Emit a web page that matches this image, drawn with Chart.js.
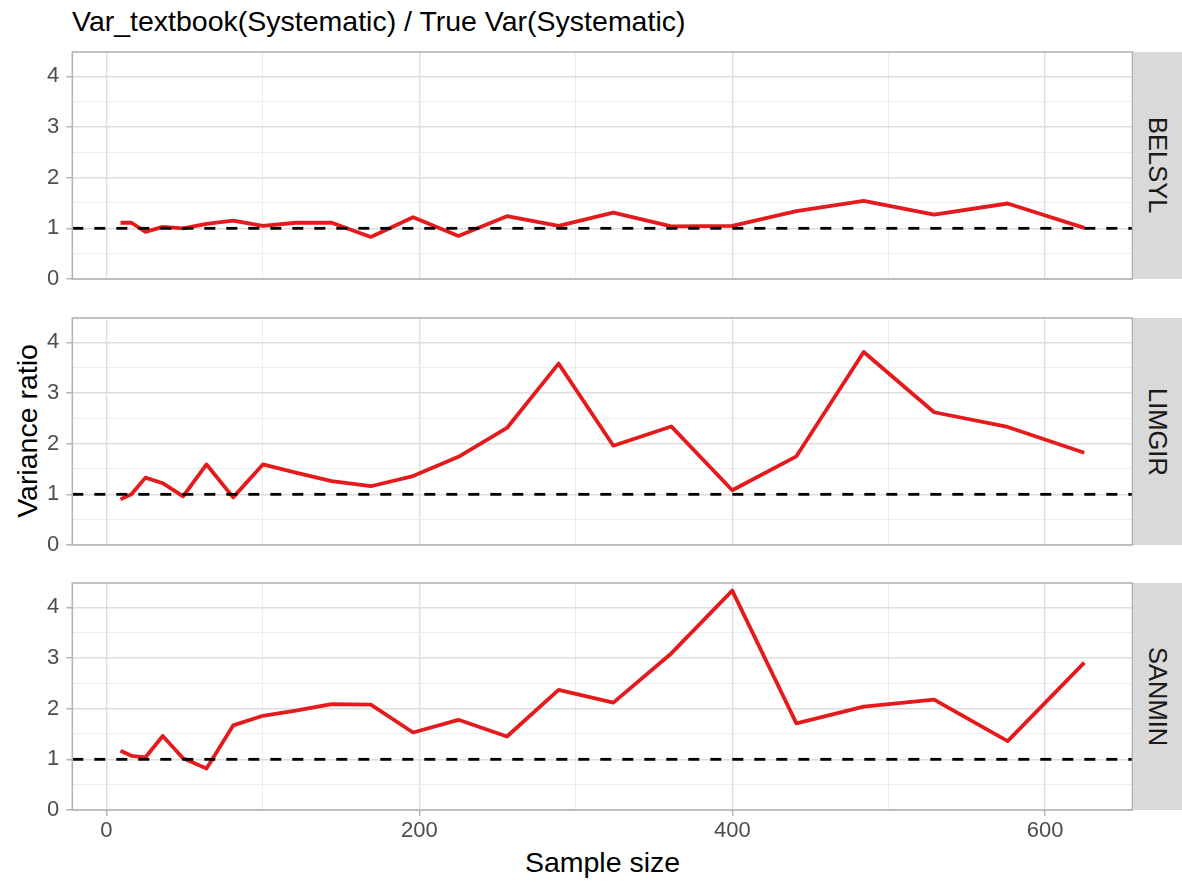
<!DOCTYPE html>
<html>
<head>
<meta charset="utf-8">
<script src="https://cdn.jsdelivr.net/npm/chart.js@4/dist/chart.umd.min.js"></script>
<style>
  html, body { margin: 0; padding: 0; background: #fff; }
  #page { position: relative; width: 1182px; height: 887px; overflow: hidden; font-family: "Liberation Sans", Arial, sans-serif; }
  canvas { position: absolute; left: 0; }
  .title { position: absolute; left: 72px; top: 4px; font-size: 28.5px; line-height: 34px; color: #000; white-space: nowrap; }
  .xtitle { position: absolute; left: 72px; width: 1061px; top: 845px; font-size: 28.5px; line-height: 34px; text-align: center; color: #000; }
  .ytitle { position: absolute; left: 27px; top: 431px; font-size: 28.5px; line-height: 34px; color: #000; white-space: nowrap; transform: translate(-50%, -50%) rotate(-90deg); }
  .strip { position: absolute; left: 1133px; width: 49px; background: #D9D9D9; display: flex; align-items: center; justify-content: center; }
  .strip span { writing-mode: vertical-rl; font-size: 25.5px; color: #1A1A1A; }
</style>
</head>
<body>
<div id="page">
  <div class="title">Var_textbook(Systematic) / True Var(Systematic)</div>
  <div class="ytitle">Variance ratio</div>
  <div class="xtitle">Sample size</div>
</div>
<script>
// Sample sizes (x) and the variance ratio per design
const sampleSize = [9, 16, 25, 36, 49, 64, 81, 100, 121, 144, 169, 196, 225, 256, 289, 324, 361, 400, 441, 484, 529, 576, 625];
const belsyl = [1.11, 1.11, 0.93, 1.03, 1.00, 1.09, 1.15, 1.05, 1.11, 1.11, 0.83, 1.22, 0.85, 1.24, 1.05, 1.31, 1.04, 1.05, 1.34, 1.54, 1.27, 1.49, 1.01];
const limgir = [0.90, 1.00, 1.33, 1.22, 0.96, 1.59, 0.94, 1.59, 1.43, 1.26, 1.16, 1.36, 1.74, 2.31, 3.58, 1.96, 2.34, 1.08, 1.75, 3.81, 2.62, 2.33, 1.82];
const sanmin = [1.17, 1.07, 1.04, 1.46, 1.02, 0.82, 1.67, 1.86, 1.96, 2.09, 2.08, 1.53, 1.78, 1.45, 2.37, 2.12, 3.09, 4.33, 1.71, 2.04, 2.18, 1.36, 2.91];
const panelNames = ["BELSYL", "LIMGIR", "SANMIN"];
const panelSeries = [belsyl, limgir, sanmin];

// Reference level and axis settings
const refLevel = 1;
const xRange = [-21.8, 655.8];
const yRange = [0, 4.48];
const xTicks = [0, 100, 200, 300, 400, 500, 600];
const xLabelTicks = [0, 200, 400, 600];
const yTicks = [0, 0.5, 1, 1.5, 2, 2.5, 3, 3.5, 4];
const yLabelTicks = [0, 1, 2, 3, 4];

const lineColor = "#E41A1C";
const panelTops = [52, 318, 583];
const panelHeight = 227;
const padTop = 10;

const page = document.getElementById("page");

// Panel frame drawn over the plot
const framePlugin = {
  id: "frame",
  afterDraw(chart) {
    const { ctx, chartArea: a } = chart;
    ctx.save();
    ctx.strokeStyle = "#B3B3B3";
    ctx.lineWidth = 1.6;
    ctx.strokeRect(a.left, a.top, a.right - a.left, a.bottom - a.top);
    ctx.restore();
  }
};

function gridOpts(majorSet, drawTicks) {
  return {
    color: c => majorSet.includes(c.tick.value) ? "#DEDEDE" : "#EBEBEB",
    lineWidth: c => majorSet.includes(c.tick.value) ? 1.4 : 0.9,
    tickColor: c => majorSet.includes(c.tick.value) ? "#B3B3B3" : "rgba(0,0,0,0)",
    drawTicks: drawTicks,
    tickLength: 6,
    tickWidth: 1.5
  };
}

function noOverflow(s) {
  s.paddingTop = 0;
  s.paddingBottom = 0;
  s.paddingLeft = 0;
  s.paddingRight = 0;
}

panelSeries.forEach((series, i) => {
  const isBottom = i === panelSeries.length - 1;
  const bottomExtra = isBottom ? 44 : 10;
  const canvas = document.createElement("canvas");
  canvas.width = 1134;
  canvas.height = padTop + panelHeight + bottomExtra;
  canvas.style.top = (panelTops[i] - padTop) + "px";
  page.appendChild(canvas);

  const strip = document.createElement("div");
  strip.className = "strip";
  strip.style.top = panelTops[i] + "px";
  strip.style.height = panelHeight + "px";
  strip.innerHTML = "<span>" + panelNames[i] + "</span>";
  page.appendChild(strip);

  new Chart(canvas, {
    type: "line",
    data: {
      datasets: [
        {
          data: xRange.map(x => ({ x: x, y: refLevel })),
          borderColor: "#000",
          borderWidth: 2.8,
          borderDash: [11, 11],
          borderCapStyle: "butt",
          pointRadius: 0,
          order: 0
        },
        {
          data: sampleSize.map((n, k) => ({ x: n, y: series[k] })),
          borderColor: lineColor,
          borderWidth: 3.8,
          borderJoinStyle: "round",
          pointRadius: 0,
          tension: 0,
          order: 1
        }
      ]
    },
    options: {
      responsive: false,
      animation: false,
      events: [],
      layout: { padding: { top: padTop, left: 0, right: 1.5, bottom: isBottom ? 0 : bottomExtra } },
      plugins: { legend: { display: false }, tooltip: { enabled: false } },
      scales: {
        x: {
          type: "linear",
          min: xRange[0],
          max: xRange[1],
          afterBuildTicks: s => { s.ticks = xTicks.map(v => ({ value: v })); },
          afterFit: s => { s.height = isBottom ? bottomExtra : 0; noOverflow(s); },
          grid: gridOpts(xLabelTicks, isBottom),
          border: { display: false },
          ticks: {
            display: isBottom,
            autoSkip: false,
            maxRotation: 0,
            padding: 2,
            color: "#4D4D4D",
            font: { family: "Liberation Sans", size: 22 },
            callback: v => xLabelTicks.includes(v) ? String(v) : ""
          }
        },
        y: {
          type: "linear",
          min: yRange[0],
          max: yRange[1],
          afterBuildTicks: s => { s.ticks = yTicks.map(v => ({ value: v })); },
          afterFit: s => { s.width = 72.3; noOverflow(s); },
          grid: gridOpts(yLabelTicks, true),
          border: { display: false },
          ticks: {
            autoSkip: false,
            padding: 7,
            color: "#4D4D4D",
            font: { family: "Liberation Sans", size: 22 },
            callback: v => yLabelTicks.includes(v) ? String(v) : ""
          }
        }
      }
    },
    plugins: [framePlugin]
  });
});
</script>
</body>
</html>
